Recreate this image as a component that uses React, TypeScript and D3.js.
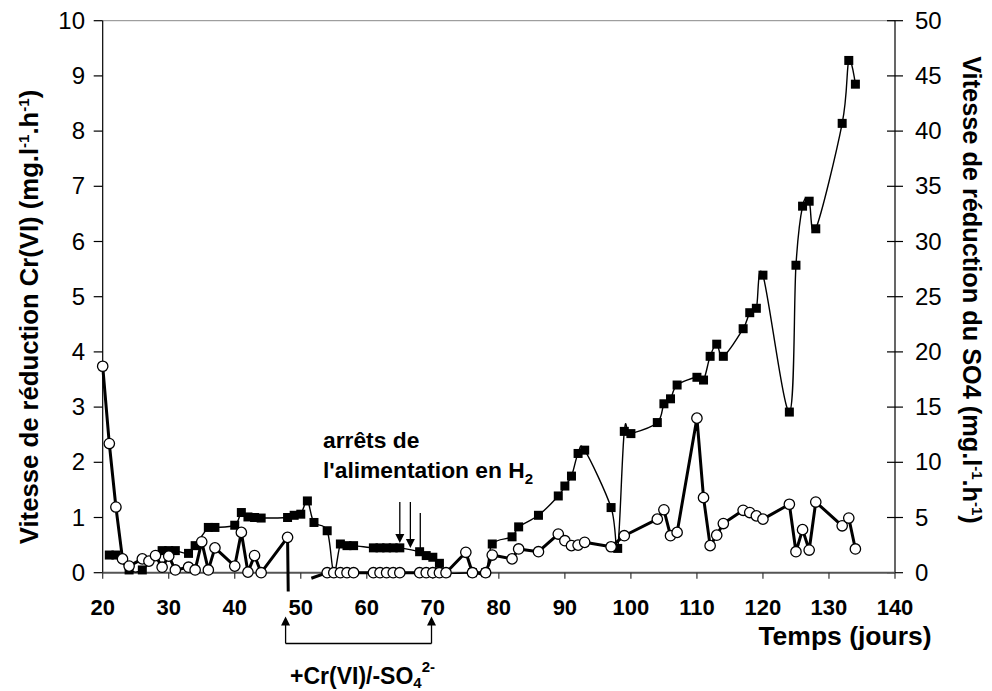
import React from "react";
import * as d3 from "d3";

// Days (jours) and Cr(VI) reduction rate (left axis, filled squares)
const squareDays = [21, 22, 24, 26, 29, 30, 31, 33, 34, 36, 37, 40, 41, 42, 43, 44, 48, 49, 50, 51, 52, 54, 55, 56, 57, 58, 61, 62, 63, 64, 65, 68, 69, 70, 71, 72, 76, 78, 79, 82, 83, 86, 89, 90, 91, 92, 93, 97, 98, 99, 100, 104, 105, 106, 107, 110, 111, 112, 113, 114, 117, 118, 119, 120, 124, 125, 126, 127, 128, 132, 133, 134];
const squareValues = [0.32, 0.32, 0.05, 0.05, 0.40, 0.40, 0.40, 0.35, 0.49, 0.82, 0.82, 0.86, 1.09, 1.01, 1.00, 0.99, 1.00, 1.04, 1.06, 1.30, 0.91, 0.76, 0, 0.52, 0.49, 0.49, 0.45, 0.45, 0.45, 0.45, 0.45, 0.38, 0.31, 0.28, 0.17, 0, 0, 0, 0.52, 0.65, 0.83, 1.04, 1.39, 1.57, 1.75, 2.16, 2.22, 1.18, 0.44, 2.56, 2.52, 2.72, 3.06, 3.15, 3.40, 3.54, 3.49, 3.92, 4.14, 3.92, 4.42, 4.71, 4.79, 5.39, 2.91, 5.57, 6.64, 6.73, 6.23, 8.14, 9.28, 8.85];

// Days and SO4 reduction rate (right axis, open circles); null = gap, negatives run off the axis
const circleDays = [20, 21, 22, 23, 24, 26, 27, 28, 29, 30, 31, 33, 34, 35, 36, 37, 40, 41, 42, 43, 44, 48, 48.1, 50, 51.6, 54, 55, 56, 57, 58, 61, 62, 63, 64, 65, 68, 69, 70, 71, 72, 75, 76, 78, 79, 82, 83, 86, 89, 90, 91, 92, 93, 97, 99, 104, 105, 106, 107, 110, 111, 112, 113, 114, 117, 118, 119, 120, 124, 125, 126, 127, 128, 132, 133, 134];
const circleValues = [18.7, 11.7, 5.95, 1.25, 0.6, 1.25, 1.05, 1.55, 0.5, 1.5, 0.25, 0.5, 0.25, 2.8, 0.25, 2.25, 0.6, 3.65, 0.05, 1.55, 0, 3.2, -1.7, null, -0.5, 0, 0, 0, 0, 0, 0, 0, 0, 0, 0, 0, 0, 0, 0, 0, 1.85, 0, 0, 1.6, 1.25, 2.15, 1.9, 3.5, 2.9, 2.45, 2.5, 2.75, 2.35, 3.35, 4.85, 5.7, 3.35, 3.65, 14.0, 6.8, 2.45, 3.4, 4.45, 5.65, 5.45, 5.15, 4.85, 6.2, 1.9, 3.9, 2.05, 6.4, 4.25, 4.95, 2.15];

const xTicks = [20, 30, 40, 50, 60, 70, 80, 90, 100, 110, 120, 130, 140];
const leftTicks = [0, 1, 2, 3, 4, 5, 6, 7, 8, 9, 10];
const rightTicks = [0, 5, 10, 15, 20, 25, 30, 35, 40, 45, 50];

// Annotation anchors (days)
const stopArrowDays = [65, 66.6];
const stopLineDay = 68.1;
const bracketDays = [47.7, 69.8];

const FONT = "'Liberation Sans', Arial, Helvetica, sans-serif";

export default function App() {
  const x = d3.scaleLinear().domain([20, 140]).range([102.7, 895]);
  const yL = d3.scaleLinear().domain([0, 10]).range([572.7, 20.7]);
  const yR = d3.scaleLinear().domain([0, 50]).range([572.7, 20.7]);

  const sq = squareDays.map((d, i) => ({ d, v: squareValues[i] }));
  const ci = circleDays.map((d, i) => ({ d, v: circleValues[i] }));

  const sqLine = d3
    .line<{ d: number; v: number }>()
    .x((p) => x(p.d))
    .y((p) => yL(p.v))
    .curve(d3.curveCatmullRom.alpha(0));
  const ciLine = d3
    .line<{ d: number; v: number | null }>()
    .defined((p) => p.v !== null)
    .x((p) => x(p.d))
    .y((p) => yR(p.v as number));

  const [x0, x1] = x.range();
  const [yb, yt] = yL.range();
  const sup = { fontSize: 15 };

  const arrowHead = (cx: number, tipY: number, up: boolean) => {
    const h = 9;
    const w = 4.5;
    const by = up ? tipY + h : tipY - h;
    return `M${cx},${tipY}L${cx - w},${by}L${cx + w},${by}Z`;
  };

  return (
    <svg
      width={992}
      height={691}
      style={{ position: "absolute", left: 0, top: 0, background: "#fff" }}
      fontFamily={FONT}
    >
      {/* top border */}
      <line x1={x0} x2={x1} y1={yt} y2={yt} stroke="#888" strokeWidth={1} />
      {/* left axis */}
      <line x1={x0} x2={x0} y1={yt} y2={yb} stroke="#000" strokeWidth={1.2} />
      {leftTicks.map((t) => (
        <g key={"l" + t}>
          <line x1={x0 - 9} x2={x0} y1={yL(t)} y2={yL(t)} stroke="#000" strokeWidth={1.2} />
          <text x={85} y={yL(t) + 8} textAnchor="end" fontSize={24}>
            {t}
          </text>
        </g>
      ))}
      {/* right axis */}
      <line x1={x1} x2={x1} y1={yt} y2={yb} stroke="#000" strokeWidth={1.2} />
      {rightTicks.map((t) => (
        <g key={"r" + t}>
          <line x1={x1 - 8} x2={x1 + 8} y1={yR(t)} y2={yR(t)} stroke="#000" strokeWidth={1.2} />
          <text x={915} y={yR(t) + 8} textAnchor="start" fontSize={24}>
            {t}
          </text>
        </g>
      ))}
      {/* bottom axis */}
      <line x1={x0} x2={x1} y1={yb} y2={yb} stroke="#555" strokeWidth={2} />
      {xTicks.map((t) => (
        <g key={"x" + t}>
          <line x1={x(t)} x2={x(t)} y1={yb} y2={yb + 6} stroke="#333" strokeWidth={1.2} />
          <text x={x(t)} y={615} textAnchor="middle" fontSize={22} fontWeight="bold">
            {t}
          </text>
        </g>
      ))}

      {/* axis titles */}
      <text x={845} y={645} textAnchor="middle" fontSize={26.5} fontWeight="bold">
        Temps (jours)
      </text>
      <text
        transform="translate(38,317) rotate(-90)"
        textAnchor="middle"
        fontSize={25.7}
        fontWeight="bold"
      >
        Vitesse de réduction Cr(VI) (mg.l
        <tspan dy={-9} {...sup}>-1</tspan>
        <tspan dy={9}>.h</tspan>
        <tspan dy={-9} {...sup}>-1</tspan>
        <tspan dy={9}>)</tspan>
      </text>
      <text
        transform="translate(963,290) rotate(90)"
        textAnchor="middle"
        fontSize={25.3}
        fontWeight="bold"
      >
        Vitesse de réduction du SO4 (mg.l
        <tspan dy={-9} {...sup}>-1</tspan>
        <tspan dy={9}>.h</tspan>
        <tspan dy={-9} {...sup}>-1</tspan>
        <tspan dy={9}>)</tspan>
      </text>

      {/* series lines */}
      <path d={sqLine(sq) || ""} fill="none" stroke="#000" strokeWidth={1.4} />
      <path d={ciLine(ci) || ""} fill="none" stroke="#000" strokeWidth={3} strokeLinejoin="round" />

      {/* markers */}
      {sq.map((p, i) => (
        <rect key={"s" + i} x={x(p.d) - 4.5} y={yL(p.v) - 4.5} width={9} height={9} fill="#000" />
      ))}
      {ci
        .filter((p) => p.v !== null && (p.v as number) >= 0)
        .map((p, i) => (
          <circle
            key={"c" + i}
            cx={x(p.d)}
            cy={yR(p.v as number)}
            r={5.2}
            fill="#fff"
            stroke="#000"
            strokeWidth={1.3}
          />
        ))}

      {/* H2 feed stop annotation */}
      <text x={323} y={448} fontSize={22.8} fontWeight="bold">
        arrêts de
      </text>
      <text x={323} y={478} fontSize={22.8} fontWeight="bold">
        l'alimentation en H
        <tspan dy={6} fontSize={15}>2</tspan>
      </text>
      {stopArrowDays.map((d, i) => (
        <g key={"a" + i}>
          <line x1={x(d)} x2={x(d)} y1={502} y2={536 + i * 5} stroke="#000" strokeWidth={1.3} />
          <path d={arrowHead(x(d), 543 + i * 5, false)} fill="#000" />
        </g>
      ))}
      <line x1={x(stopLineDay)} x2={x(stopLineDay)} y1={513} y2={552} stroke="#000" strokeWidth={1.3} />

      {/* +Cr(VI)/-SO4 bracket */}
      {bracketDays.map((d, i) => (
        <g key={"b" + i}>
          <line x1={x(d)} x2={x(d)} y1={624} y2={643.5} stroke="#000" strokeWidth={1.3} />
          <path d={arrowHead(x(d), 616.5, true)} fill="#000" />
        </g>
      ))}
      <line
        x1={x(bracketDays[0])}
        x2={x(bracketDays[1])}
        y1={643.5}
        y2={643.5}
        stroke="#000"
        strokeWidth={1.3}
      />
      <text x={290} y={684} fontSize={23} fontWeight="bold">
        +Cr(VI)/-SO
        <tspan dy={4} fontSize={15}>4</tspan>
        <tspan dy={-16} fontSize={15}>2-</tspan>
      </text>
    </svg>
  );
}
